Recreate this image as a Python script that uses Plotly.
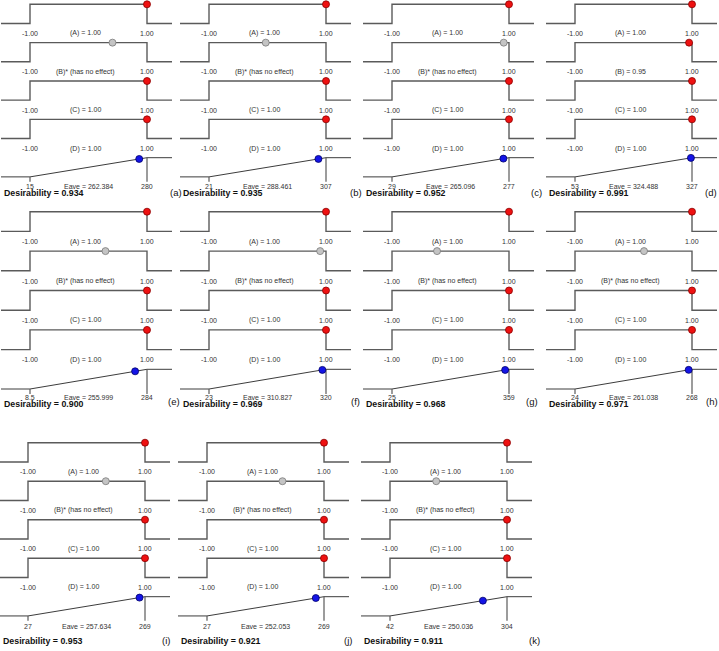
import plotly.graph_objects as go

# ---------------- data ----------------
panel_letters = ['a', 'b', 'c', 'd', 'e', 'f', 'g', 'h', 'i', 'j', 'k']
a_values = [1.00] * 11
b_values = [0.41, -0.03, 0.91, 0.95, 0.29, 0.90, -0.23, 0.18, 0.33, 0.29, -0.21]
b_has_effect = [False, False, False, True, False, False, False, False, False, False, False]
c_values = [1.00] * 11
d_values = [1.00] * 11
resp_low = [15, 21, 29, 53, 8.5, 23, 25, 24, 27, 27, 42]
resp_target = [280, 307, 277, 327, 284, 320, 359, 268, 269, 269, 304]
eave = [262.384, 288.461, 265.096, 324.488, 255.999, 310.827, 348.0, 261.038, 257.634, 252.053, 250.036]
eave_label_shown = [True, True, True, True, True, True, False, True, True, True, True]
desirability = [0.934, 0.935, 0.952, 0.991, 0.900, 0.969, 0.968, 0.971, 0.953, 0.921, 0.911]

# ---------------- layout constants (pixels) ----------------
W, H = 719, 651
col_stepL = [30, 209, 392, 575]
row_top = [4.3, 211.7, 442.7]
row_spacing = [38.35, 39.4, 38.5]
row_desir_y = [193, 403.5, 640.5]
row_letter_y = [192.5, 401.5, 640.5]
row_resp_lbl = [0.52, 0.44, 0.55]
row_xshift = [0, 0, -2]
letter_dx = [29, 30, 27, 27, 27, 29, 23, 19.5, 21, 23.5, 27.5]
STEP_W = 117
LEFT_EXT = 29
RIGHT_EXT = 25

LINE_COL = '#5a5a5a'
TXT_COL = '#333333'
FONT = 'Liberation Sans, Arial, sans-serif'
LBL_SIZE = 7

fig = go.Figure()
annotations = []


def fmt(v):
    return ('%g' % v)


def x_axis(px_left, px_right, v_left, v_right):
    """axis spec mapping value v_left->px_left, v_right->px_right; domain clamped to the page"""
    scale = (v_right - v_left) / (px_right - px_left)
    a, b = max(px_left, 0.0), min(px_right, W)
    return [a / W, b / W], [v_left + (a - px_left) * scale, v_left + (b - px_left) * scale]


def y_axis(px_top, px_bot, v_top, v_bot):
    scale = (v_top - v_bot) / (px_bot - px_top)
    a, b = max(px_top, 0.0), min(px_bot, H)
    v_t = v_top - (a - px_top) * scale
    v_b = v_bot + (px_bot - b) * scale
    return [1 - b / H, 1 - a / H], [v_b, v_t]


for i, letter in enumerate(panel_letters):
    row, col = i // 4, i % 4
    sl = col_stepL[col] + row_xshift[row]
    sr = sl + STEP_W
    U = row_spacing[row] / 2.0
    top = row_top[row]

    fx = 2 * i + 1
    rx = 2 * i + 2
    fx_name, fy_name = 'x%d' % fx, 'y%d' % fx
    rx_name, ry_name = 'x%d' % rx, 'y%d' % rx

    # factor axes
    sf = 2.0 / STEP_W
    line_x = [-1 - LEFT_EXT * sf, 1 + RIGHT_EXT * sf]
    xd, xr = x_axis(sl - LEFT_EXT - 4, sr + RIGHT_EXT + 4, -1 - (LEFT_EXT + 4) * sf, 1 + (RIGHT_EXT + 4) * sf)
    yd, yr = y_axis(top - 0.3 * U, top + 7.8 * U, 7.3, -0.8)
    fig.layout['xaxis%d' % fx] = dict(domain=xd, range=xr, visible=False, anchor=fy_name, fixedrange=True)
    fig.layout['yaxis%d' % fx] = dict(domain=yd, range=yr, visible=False, anchor=fx_name, fixedrange=True)

    # response axes
    L, T = resp_low[i], resp_target[i]
    s_r = (T - L) / STEP_W
    rline_x = [L - LEFT_EXT * s_r, T + RIGHT_EXT * s_r]
    xd2, xr2 = x_axis(sl - LEFT_EXT - 4, sr + RIGHT_EXT + 4, L - (LEFT_EXT + 4) * s_r, T + (RIGHT_EXT + 4) * s_r)
    rtop_px = top + 4 * row_spacing[row]
    yd2, yr2 = y_axis(rtop_px - 0.3 * U, rtop_px + 1.8 * U, 1.3, -0.8)
    fig.layout['xaxis%d' % rx] = dict(domain=xd2, range=xr2, visible=False, anchor=ry_name, fixedrange=True)
    fig.layout['yaxis%d' % rx] = dict(domain=yd2, range=yr2, visible=False, anchor=rx_name, fixedrange=True)

    factor_vals = [a_values[i], b_values[i], c_values[i], d_values[i]]
    names = ['A', 'B', 'C', 'D']
    for k in range(4):
        base = 6 - 2 * k
        fig.add_trace(go.Scatter(
            x=[line_x[0], -1, -1, 1, 1, line_x[1]],
            y=[base, base, base + 1, base + 1, base, base],
            mode='lines', line=dict(color=LINE_COL, width=1.4),
            xaxis=fx_name, yaxis=fy_name, showlegend=False, hoverinfo='skip', cliponaxis=False))
        inactive = (k == 1 and not b_has_effect[i])
        fig.add_trace(go.Scatter(
            x=[factor_vals[k]], y=[base + 1], mode='markers',
            marker=dict(size=7, color='#c4c4c4' if inactive else '#ee1111',
                        line=dict(color='#7a7a7a' if inactive else '#8a0000', width=0.8)),
            xaxis=fx_name, yaxis=fy_name, showlegend=False, hoverinfo='skip', cliponaxis=False))
        if inactive:
            mid_txt = '(B)* (has no effect)'
        else:
            mid_txt = '(%s) = %.2f' % (names[k], factor_vals[k])
        for xv, txt in [(-1, '-1.00'), (1, '1.00'), (-0.05, mid_txt)]:
            annotations.append(dict(x=xv, y=base - 0.52, xref=fx_name, yref=fy_name, text=txt, showarrow=False,
                                    font=dict(family=FONT, size=LBL_SIZE, color=TXT_COL),
                                    xanchor='center', yanchor='middle'))

    # response ramp
    fig.add_trace(go.Scatter(
        x=[rline_x[0], L, T, rline_x[1]], y=[0, 0, 1, 1], mode='lines',
        line=dict(color='#3c3c3c', width=1.0),
        xaxis=rx_name, yaxis=ry_name, showlegend=False, hoverinfo='skip', cliponaxis=False))
    fig.add_trace(go.Scatter(
        x=[T, T, None, L, L], y=[1, -0.25, None, 0, -0.25], mode='lines',
        line=dict(color=LINE_COL, width=1.2),
        xaxis=rx_name, yaxis=ry_name, showlegend=False, hoverinfo='skip', cliponaxis=False))
    frac = (eave[i] - L) / (T - L)
    fig.add_trace(go.Scatter(
        x=[eave[i]], y=[frac], mode='markers',
        marker=dict(size=7, color='#1414e6', line=dict(color='#00006a', width=0.8)),
        xaxis=rx_name, yaxis=ry_name, showlegend=False, hoverinfo='skip', cliponaxis=False))
    r_labels = [(L, fmt(L)), (T, fmt(T))]
    if eave_label_shown[i]:
        r_labels.append(((L + T) / 2.0, 'Eave = %.3f' % eave[i]))
    for xv, txt in r_labels:
        annotations.append(dict(x=xv, y=-row_resp_lbl[row], xref=rx_name, yref=ry_name, text=txt, showarrow=False,
                                font=dict(family=FONT, size=LBL_SIZE, color=TXT_COL),
                                xanchor='center', yanchor='middle'))

    # desirability and panel letter
    annotations.append(dict(x=max(sl - LEFT_EXT + 1, 1) / W, y=1 - row_desir_y[row] / H, xref='paper', yref='paper',
                            text='<b>Desirability = %.3f</b>' % desirability[i], showarrow=False,
                            font=dict(family=FONT, size=8.8, color='#111111'),
                            xanchor='left', yanchor='middle'))
    lx = sr + letter_dx[i]
    if lx + 6 > W:
        annotations.append(dict(x=1.0, y=1 - row_letter_y[row] / H, xref='paper', yref='paper',
                                text='(%s)' % letter, showarrow=False,
                                font=dict(family=FONT, size=9.5, color='#111111'),
                                xanchor='right', yanchor='middle'))
    else:
        annotations.append(dict(x=lx / W, y=1 - row_letter_y[row] / H, xref='paper',
                                yref='paper', text='(%s)' % letter, showarrow=False,
                                font=dict(family=FONT, size=9.5, color='#111111'),
                                xanchor='center', yanchor='middle'))

fig.update_layout(
    width=W, height=H, autosize=False,
    margin=dict(l=0, r=0, t=0, b=0),
    paper_bgcolor='white', plot_bgcolor='rgba(0,0,0,0)',
    showlegend=False,
    annotations=annotations,
)

fig.write_html('out.html', config={'displayModeBar': False},
               post_script="document.body.style.margin='0';document.body.style.padding='0';")
